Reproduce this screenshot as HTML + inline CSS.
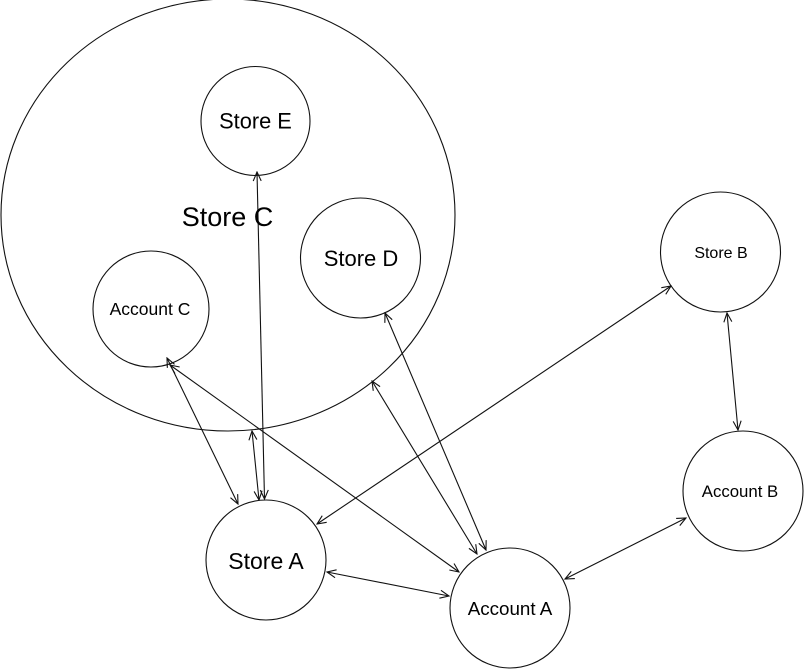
<!DOCTYPE html>
<html>
<head>
<meta charset="utf-8">
<style>
html,body{margin:0;padding:0;background:#fff;width:804px;height:669px;overflow:hidden}
svg{display:block}
text{font-family:"Liberation Sans",sans-serif;fill:#000;text-anchor:middle}
.c{fill:none;stroke:#111;stroke-width:1.1}
.l{stroke:#111;stroke-width:1.1;fill:none;marker-start:url(#a);marker-end:url(#a)}
</style>
</head>
<body>
<svg width="804" height="669" viewBox="0 0 804 669" xmlns="http://www.w3.org/2000/svg">
<defs>
<marker id="a" viewBox="-10 -5 11 10" refX="0" refY="0" markerWidth="11" markerHeight="10" markerUnits="userSpaceOnUse" orient="auto-start-reverse">
<path d="M-9,-4 L0,0 L-9,4" fill="none" stroke="#111" stroke-width="1.1"/>
</marker>
</defs>
<ellipse class="c" cx="228" cy="215" rx="227" ry="216"/>
<circle class="c" cx="255.500" cy="121" r="54.500"/>
<circle class="c" cx="360.500" cy="258" r="60"/>
<circle class="c" cx="151" cy="309" r="58"/>
<circle class="c" cx="720.500" cy="252" r="60"/>
<circle class="c" cx="743" cy="491" r="60"/>
<circle class="c" cx="266" cy="560" r="60"/>
<circle class="c" cx="510" cy="608" r="60"/>
<line class="l" x1="257" y1="172" x2="264.500" y2="499"/>
<line class="l" x1="167" y1="358" x2="238" y2="504"/>
<line class="l" x1="252" y1="431" x2="259" y2="500"/>
<line class="l" x1="170" y1="365" x2="459" y2="572"/>
<line class="l" x1="385" y1="313" x2="486" y2="550"/>
<line class="l" x1="372" y1="381" x2="477" y2="554"/>
<line class="l" x1="671" y1="286" x2="317" y2="524"/>
<line class="l" x1="327" y1="572" x2="449" y2="596"/>
<line class="l" x1="565" y1="579" x2="686" y2="518"/>
<line class="l" x1="727" y1="313" x2="738" y2="430"/>
<text x="227.500" y="226" font-size="27">Store C</text>
<text x="255.500" y="128.500" font-size="21.800">Store E</text>
<text x="361" y="266" font-size="22">Store D</text>
<text x="150" y="315" font-size="17.500">Account C</text>
<text x="721" y="258" font-size="16">Store B</text>
<text x="740" y="497" font-size="16.800">Account B</text>
<text x="266" y="569" font-size="23">Store A</text>
<text x="510" y="615" font-size="18.800">Account A</text>
</svg>
</body>
</html>
